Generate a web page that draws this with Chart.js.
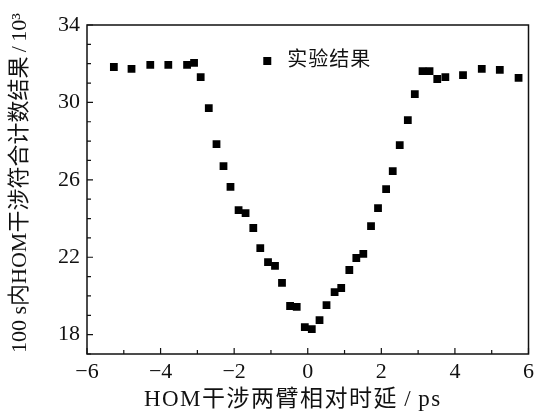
<!DOCTYPE html>
<html><head><meta charset="utf-8">
<script src="https://cdn.jsdelivr.net/npm/chart.js@4"></script>
<style>html,body{margin:0;padding:0;background:#fff}</style>
</head><body>
<canvas id="c" width="539" height="414"></canvas>
<script>
const delays = [-5.27,-4.79,-4.28,-3.79,-3.28,-3.09,-2.91,-2.69,-2.48,-2.29,-2.10,-1.88,-1.69,-1.48,-1.29,-1.08,-0.89,-0.70,-0.48,-0.30,-0.08,0.11,0.32,0.51,0.73,0.91,1.13,1.32,1.51,1.72,1.91,2.13,2.31,2.50,2.72,2.91,3.12,3.31,3.52,3.74,4.22,4.73,5.22,5.73];
const counts = [31.83,31.73,31.94,31.94,31.94,32.04,31.31,29.71,27.85,26.71,25.63,24.44,24.28,23.51,22.47,21.75,21.55,20.67,19.48,19.43,18.39,18.29,18.75,19.53,20.20,20.41,21.34,21.96,22.17,23.61,24.54,25.52,26.45,27.79,29.09,30.43,31.62,31.62,31.21,31.31,31.41,31.73,31.68,31.27];
const xTickValues = [-6,-4,-2,0,2,4,6];
const yTickValues = [18,22,26,30,34];
const seriesLabel = '实验结果';
const xTitle = 'HOM干涉两臂相对时延\u2009/\u2009ps';
const yTitle = '100 s内HOM干涉符合计数结果\u2009/\u200910³';

const FONT = "'Liberation Serif','DejaVu Serif','Noto Sans CJK SC',serif";
const INK = '#111';

function drawFitted(ctx, text, left, y, width, font, maxLs) {
  ctx.font = font;
  ctx.letterSpacing = '0px';
  const w0 = ctx.measureText(text).width;
  const n = [...text].length;
  const ls = Math.min(maxLs, Math.max(0, (width - w0) / (n - 1)));
  ctx.letterSpacing = ls.toFixed(2) + 'px';
  const w = w0 + ls * (n - 1);
  ctx.textAlign = 'left';
  ctx.fillText(text, left + (width - w) / 2, y);
  ctx.letterSpacing = '0px';
}

const decor = {
  id: 'decor',
  afterDraw(chart) {
    const ctx = chart.ctx, a = chart.chartArea;
    const xs = chart.scales.x, ys = chart.scales.y;
    ctx.save();
    ctx.strokeStyle = INK;
    ctx.lineWidth = 1.5;
    ctx.strokeRect(a.left, a.top, a.right - a.left, a.bottom - a.top);
    ctx.lineWidth = 1.2;
    ctx.beginPath();
    for (let v = xs.min; v <= xs.max; v++) {
      const p = xs.getPixelForValue(v);
      const len = xTickValues.includes(v) ? 6 : 4;
      ctx.moveTo(p, a.bottom); ctx.lineTo(p, a.bottom - len);
    }
    for (let v = ys.min; v <= ys.max; v++) {
      const p = ys.getPixelForValue(v);
      const len = yTickValues.includes(v) ? 6 : 4;
      ctx.moveTo(a.left, p); ctx.lineTo(a.left + len, p);
    }
    ctx.stroke();
    // legend
    const lx = xs.getPixelForValue(-1.1), ly = ys.getPixelForValue(32.14);
    ctx.fillStyle = '#000';
    ctx.fillRect(lx - 4, ly - 4, 8, 8);
    ctx.textBaseline = 'middle';
    ctx.fillStyle = INK;
    drawFitted(ctx, seriesLabel, lx + 20, ly, 83, "20px " + FONT, 2);
    // titles
    drawFitted(ctx, xTitle, 137, 400, 310, "23px " + FONT, 1.5);
    ctx.translate(20, 183);
    ctx.rotate(-Math.PI / 2);
    drawFitted(ctx, yTitle, -170, 0, 340, "22px " + FONT, 2);
    ctx.restore();
  }
};

new Chart(document.getElementById('c'), {
  type: 'scatter',
  data: {
    datasets: [{
      label: seriesLabel,
      data: delays.map((x, i) => ({ x, y: counts[i] })),
      pointStyle: 'rect',
      pointRadius: 5.5,
      pointHoverRadius: 5.5,
      backgroundColor: '#000',
      borderWidth: 0
    }]
  },
  options: {
    responsive: false,
    animation: false,
    devicePixelRatio: 1,
    layout: { padding: { top: 25, right: 7, left: 0, bottom: 0 } },
    plugins: { legend: { display: false }, tooltip: { enabled: false } },
    scales: {
      x: {
        type: 'linear', min: -6, max: 6,
        grid: { display: false, drawTicks: false },
        border: { display: false },
        afterBuildTicks: s => { s.ticks = xTickValues.map(v => ({ value: v })); },
        afterFit: s => { s.height = 60; },
        ticks: {
          padding: 5, color: INK, font: { family: FONT, size: 22 },
          maxRotation: 0,
          callback: v => (v < 0 ? '\u2212' + Math.abs(v) : String(v))
        }
      },
      y: {
        type: 'linear', min: 17, max: 34,
        grid: { display: false, drawTicks: false },
        border: { display: false },
        afterBuildTicks: s => { s.ticks = yTickValues.map(v => ({ value: v })); },
        afterFit: s => { s.width = 87; },
        ticks: {
          padding: 7, color: INK, font: { family: FONT, size: 22 },
          callback: v => String(v)
        }
      }
    }
  },
  plugins: [decor]
});
</script>
</body></html>
